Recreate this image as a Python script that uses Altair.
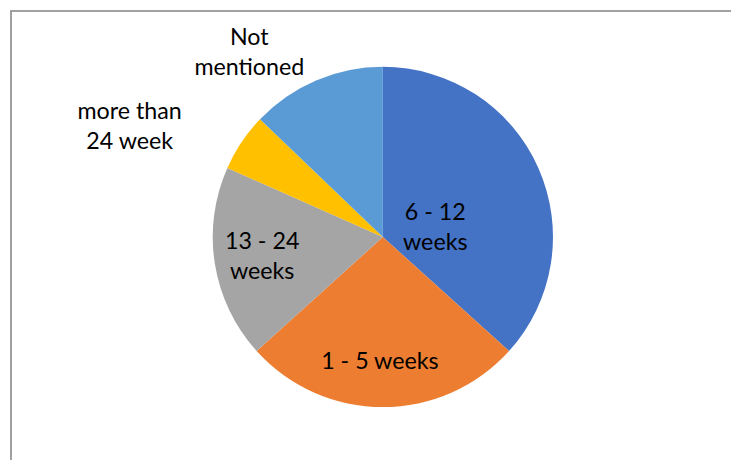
import altair as alt
import pandas as pd

categories = ["6 - 12 weeks", "1 - 5 weeks", "13 - 24 weeks", "more than 24 week", "Not mentioned"]
counts = [40, 29, 20, 6, 14]
label_texts = ["6 - 12\nweeks", "1 - 5 weeks", "13 - 24\nweeks", "more than\n24 week", "Not\nmentioned"]
colors = ["#4472C4", "#ED7D31", "#A5A5A5", "#FFC000", "#5B9BD5"]

# layout (pixels, chart coordinates)
W, H = 731, 454
CX, CY, R = 379, 229, 172
LINE_H = 30
label_offsets = [(53, -9), (-3, 126), (-122, 20), (-256, -111), (-135, -186)]

df = pd.DataFrame({
    "category": categories,
    "count": counts,
    "order": list(range(len(categories))),
})
nlines = [t.count("\n") + 1 for t in label_texts]
lab = pd.DataFrame({
    "label": label_texts,
    "lx": [CX + dx for dx, dy in label_offsets],
    "ly": [CY + dy - (n - 1) * LINE_H / 2 for (dx, dy), n in zip(label_offsets, nlines)],
})

pie = alt.Chart(df).mark_arc(radius=R).encode(
    theta=alt.Theta("count:Q", stack=True),
    color=alt.Color("category:N", scale=alt.Scale(domain=categories, range=colors), legend=None),
    order=alt.Order("order:Q"),
    x=alt.value(CX),
    y=alt.value(CY),
)

text = alt.Chart(lab).mark_text(
    font="Lato", fontSize=23.5, color="#000000", lineBreak="\n", lineHeight=LINE_H,
    align="center", baseline="middle",
).encode(
    x=alt.X("lx:Q", scale=None),
    y=alt.Y("ly:Q", scale=None),
    text="label:N",
)

frame_top = alt.Chart(df).mark_rule(color="#A0A0A0", strokeWidth=1.5).encode(
    x=alt.value(3), x2=alt.value(W), y=alt.value(0.75)
)
frame_left = alt.Chart(df).mark_rule(color="#A0A0A0", strokeWidth=1.5).encode(
    x=alt.value(3), y=alt.value(0), y2=alt.value(H)
)

chart = alt.layer(pie, text, frame_top, frame_left).properties(
    width=W, height=H, padding=0,
    autosize=alt.AutoSizeParams(type="none"),
).configure_view(stroke=None)

chart.save("out.html", embed_options={"renderer": "svg", "actions": False})
